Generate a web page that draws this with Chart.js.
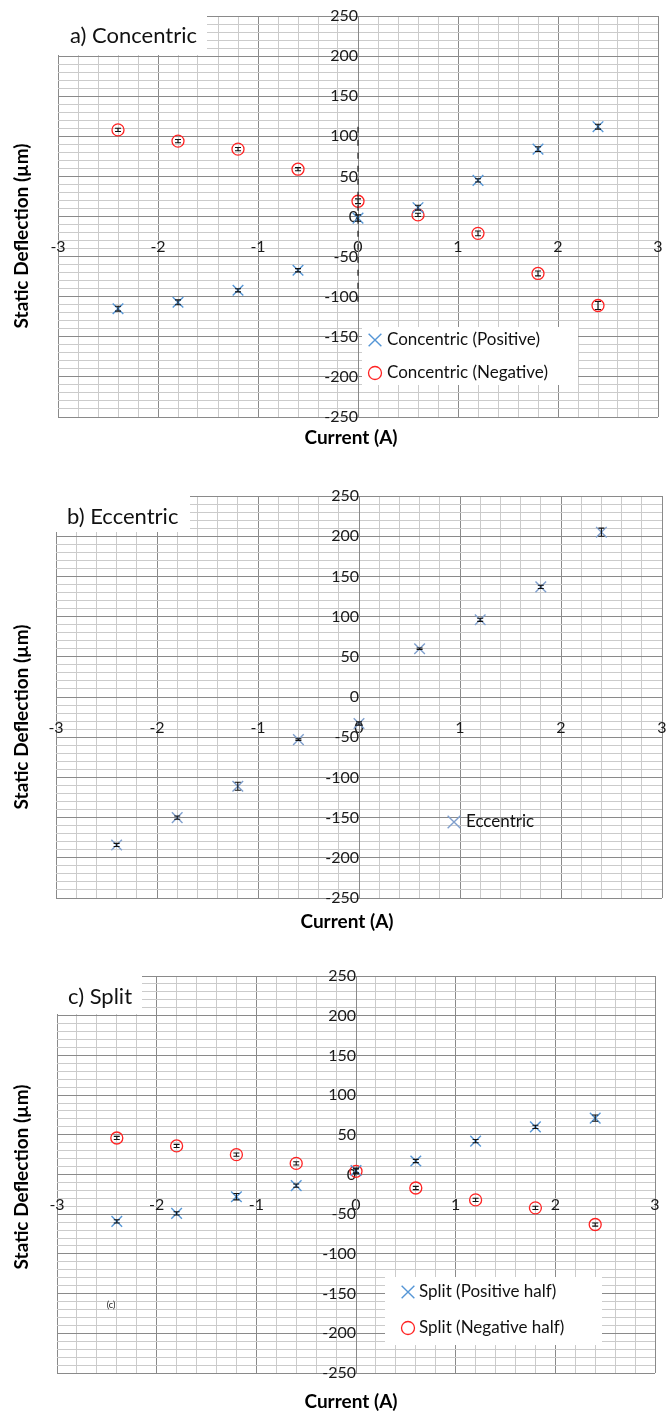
<!DOCTYPE html>
<html>
<head>
<meta charset="utf-8">
<script src="https://cdn.jsdelivr.net/npm/chart.js@4.4.1/dist/chart.umd.min.js"></script>
<style>
  html, body { margin: 0; padding: 0; background: #fff; }
  #page { position: relative; width: 667px; height: 1414px; overflow: hidden; }
  .panel { position: absolute; left: 0; width: 667px; }
  canvas { display: block; }
</style>
</head>
<body>
<div id="page">
  <div class="panel" style="top:0px;height:455px"><canvas id="chartA" width="667" height="455"></canvas></div>
  <div class="panel" style="top:470px;height:470px"><canvas id="chartB" width="667" height="470"></canvas></div>
  <div class="panel" style="top:950px;height:464px"><canvas id="chartC" width="667" height="464"></canvas></div>
</div>
<script>
// Coil current steps (A)
const currents = [-2.4, -1.8, -1.2, -0.6, 0, 0.6, 1.2, 1.8, 2.4];

// a) Concentric — static deflection (µm) and error half-widths
const concentricPos    = [-115, -107, -92, -67, -2, 11, 45, 84, 112];
const concentricPosErr = [3, 3, 2, 2, 4, 3, 2, 3, 3];
const concentricNeg    = [108, 94, 84, 59, 19, 2, -21, -71, -111];
const concentricNegErr = [2, 2, 2, 2, 3, 2, 3, 3, 5];
const concentricMarkLine = [112, -115];   // dashed vertical guide at 0 A

// b) Eccentric
const eccentric    = [-184, -150, -111, -53, -33, 60, 96, 137, 205];
const eccentricErr = [2, 2, 5, 1, 2, 1, 2, 2, 5];

// c) Split
const splitPos    = [-59, -49, -28, -14, 5, 17, 42, 60, 71];
const splitPosErr = [2, 2, 4, 2, 3, 2, 2, 2, 4];
const splitNeg    = [46, 36, 25, 14, 4, -17, -32, -42, -63];
const splitNegErr = [2, 2, 2, 2, 3, 2, 2, 2, 2];

// Axis tick labels
const xTickLabels = [-3, -2, -1, 0, 1, 2, 3];
const yTickLabels = [-250, -200, -150, -100, -50, 0, 50, 100, 150, 200, 250];

const FONT = 'Lato, "Open Sans", "DejaVu Sans", sans-serif';
Chart.defaults.font.family = FONT;
Chart.defaults.color = '#1a1a1a';

const MAJOR = '#8a8a8a';
const MINOR = '#cbcbcb';
const BLUE = '#5596d6';
const BLUE_B = '#7f9fcd';
const RED = '#ff2222';

function pts(ys) { return currents.map((x, i) => ({ x: x, y: ys[i] })); }
function near(a, b) { return Math.abs(a - b) < 1e-6; }

// Axes cross at the origin; labels are pushed off the axis lines by
// invisible tick marks so the plot area keeps its full size.
function scaleSet() {
  return {
    x: {
      type: 'linear', min: -3, max: 3, position: { y: 0 },
      ticks: {
        stepSize: 0.2, autoSkip: false, maxRotation: 0, padding: 0,
        font: { size: 16 }, color: '#1a1a1a',
        callback: v => { const t = xTickLabels.find(l => near(l, v)); return t === undefined ? '' : String(t); }
      },
      grid: {
        drawTicks: true, tickLength: 21, tickColor: 'rgba(0,0,0,0)', lineWidth: 1,
        color: c => xTickLabels.some(l => near(l, c.tick.value)) ? MAJOR : MINOR
      },
      border: { display: true, color: MAJOR, width: 1 }
    },
    y: {
      type: 'linear', min: -250, max: 250, position: { x: 0 },
      ticks: {
        stepSize: 10, autoSkip: false, padding: 0,
        font: { size: 16 }, color: '#1a1a1a',
        callback: v => { const t = yTickLabels.find(l => near(l, v)); return t === undefined ? '' : String(t); }
      },
      grid: {
        drawTicks: true, tickLength: 16, tickColor: 'rgba(0,0,0,0)', lineWidth: 1,
        color: c => yTickLabels.some(l => near(l, c.tick.value)) ? MAJOR : MINOR
      },
      border: { display: true, color: MAJOR, width: 1 }
    }
  };
}

// Vertical error bars with caps, positioned through the chart scales
const errorBars = {
  id: 'errorBars',
  afterDatasetsDraw(chart) {
    const { ctx, scales: { x, y } } = chart;
    ctx.save();
    ctx.strokeStyle = '#111';
    ctx.lineWidth = 1.1;
    chart.data.datasets.forEach(ds => {
      if (!ds.errors) return;
      ds.data.forEach((p, i) => {
        const e = ds.errors[i];
        const px = x.getPixelForValue(p.x);
        const top = y.getPixelForValue(p.y + e);
        const bot = y.getPixelForValue(p.y - e);
        ctx.beginPath();
        ctx.moveTo(px, top); ctx.lineTo(px, bot);
        ctx.moveTo(px - 3, top); ctx.lineTo(px + 3, top);
        ctx.moveTo(px - 3, bot); ctx.lineTo(px + 3, bot);
        ctx.stroke();
      });
    });
    ctx.restore();
  }
};

// Panel caption, in-plot legend and axis titles
const decor = {
  id: 'decor',
  afterDraw(chart, args, o) {
    const ctx = chart.ctx;
    ctx.save();
    if (o.caption) {
      const c = o.caption;
      ctx.fillStyle = '#fff';
      ctx.fillRect(c.box[0], c.box[1], c.box[2], c.box[3]);
      ctx.fillStyle = '#111';
      ctx.font = '22px ' + FONT;
      ctx.textAlign = 'left'; ctx.textBaseline = 'middle';
      ctx.fillText(c.text, c.tx, c.ty);
    }
    if (o.legend) {
      const L = o.legend;
      if (L.box) {
        ctx.fillStyle = '#fff';
        ctx.fillRect(L.box[0], L.box[1], L.box[2], L.box[3]);
      }
      L.items.forEach(it => {
        const ds = chart.data.datasets[it.ds];
        const r = ds.pointStyle === 'crossRot' ? 9 : 6.5;
        ctx.strokeStyle = ds.borderColor;
        ctx.fillStyle = 'rgba(0,0,0,0)';
        ctx.lineWidth = ds.borderWidth;
        Chart.helpers.drawPoint(ctx, { pointStyle: ds.pointStyle, radius: r, borderWidth: ds.borderWidth, rotation: 0 }, it.mx, it.y);
        ctx.fillStyle = '#111';
        ctx.font = '17px ' + FONT;
        ctx.textAlign = 'left'; ctx.textBaseline = 'middle';
        ctx.fillText(ds.label, it.tx, it.y);
      });
    }
    if (o.note) {
      ctx.fillStyle = '#111';
      ctx.font = '9px ' + FONT;
      ctx.textAlign = 'center'; ctx.textBaseline = 'middle';
      ctx.fillText(o.note.text, o.note.x, o.note.y);
    }
    ctx.fillStyle = '#000';
    ctx.font = 'bold 19px ' + FONT;
    ctx.textAlign = 'center'; ctx.textBaseline = 'middle';
    ctx.fillText('Current (A)', o.xTitle[0], o.xTitle[1]);
    ctx.translate(o.yTitle[0], o.yTitle[1]);
    ctx.rotate(-Math.PI / 2);
    ctx.fillText('Static Deflection (\u00b5m)', 0, 0);
    ctx.restore();
  }
};

function crossSet(label, ys, errs, color) {
  return { label, data: pts(ys), errors: errs, pointStyle: 'crossRot', pointRadius: 7.5,
           borderColor: color, backgroundColor: color, borderWidth: 1.4, showLine: false };
}
function circleSet(label, ys, errs) {
  return { label, data: pts(ys), errors: errs, pointStyle: 'circle', pointRadius: 6,
           borderColor: RED, backgroundColor: 'rgba(255,255,255,0)', borderWidth: 1.3, showLine: false };
}

function build(id, datasets, padding, decorOpts) {
  return new Chart(document.getElementById(id), {
    type: 'scatter',
    data: { datasets },
    options: {
      responsive: false, animation: false, devicePixelRatio: 1,
      layout: { padding, autoPadding: false },
      scales: scaleSet(),
      plugins: { legend: { display: false }, tooltip: { enabled: false }, decor: decorOpts }
    },
    plugins: [errorBars, decor]
  });
}

build('chartA', [
  { label: 'guide', data: [{ x: 0, y: concentricMarkLine[0] }, { x: 0, y: concentricMarkLine[1] }],
    showLine: true, borderColor: '#222', borderWidth: 1.2, borderDash: [6, 7], pointRadius: 0 },
  crossSet('Concentric (Positive)', concentricPos, concentricPosErr, BLUE),
  circleSet('Concentric (Negative)', concentricNeg, concentricNegErr)
], { left: 58, top: 16, right: 9, bottom: 38 }, {
  caption: { text: 'a) Concentric', box: [58, 16, 149, 39], tx: 70, ty: 36 },
  legend: { box: [362, 327, 216, 58], items: [ { ds: 1, mx: 375, tx: 387, y: 340 }, { ds: 2, mx: 375, tx: 387, y: 373 } ] },
  xTitle: [351, 438], yTitle: [22, 236]
});

build('chartB', [
  crossSet('Eccentric', eccentric, eccentricErr, BLUE_B)
], { left: 56, top: 26, right: 5, bottom: 42 }, {
  caption: { text: 'b) Eccentric', box: [56, 26, 134, 36], tx: 67, ty: 47 },
  legend: { items: [ { ds: 0, mx: 454, tx: 466, y: 352 } ] },
  xTitle: [347, 452], yTitle: [22, 247]
});

build('chartC', [
  crossSet('Split (Positive half)', splitPos, splitPosErr, BLUE),
  circleSet('Split (Negative half)', splitNeg, splitNegErr)
], { left: 57, top: 26, right: 12, bottom: 41 }, {
  caption: { text: 'c) Split', box: [57, 26, 85, 38], tx: 68, ty: 47 },
  legend: { box: [385, 327, 217, 68], items: [ { ds: 0, mx: 408, tx: 419, y: 342 }, { ds: 1, mx: 408, tx: 419, y: 378 } ] },
  note: { text: '(c)', x: 111, y: 355 },
  xTitle: [351, 452], yTitle: [22, 227]
});
</script>
</body>
</html>
